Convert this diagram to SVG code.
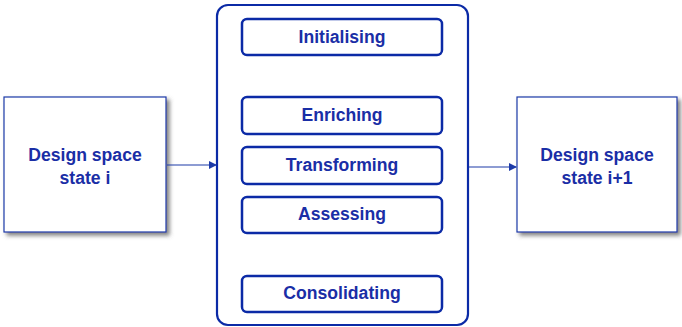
<svg xmlns="http://www.w3.org/2000/svg" width="682" height="327" viewBox="0 0 682 327">
<defs>
<style>
.t{font-family:"Liberation Sans",Arial,sans-serif;font-weight:bold;font-size:17.6px;fill:#1a2ea6;text-anchor:middle}
.state{fill:#fff;stroke:#1c3aa8;stroke-width:1.2}
.step{fill:#fff;stroke:#0b2aa6;stroke-width:2.5}
.cont{fill:#fff;stroke:#0b2aa6;stroke-width:2.2}
.conn{stroke:#1c3aa8;stroke-width:1.2;fill:none}
</style>
<filter id="sh" x="-10%" y="-10%" width="120%" height="125%">
<feDropShadow dx="3" dy="3" stdDeviation="2" flood-color="#555" flood-opacity="0.75"/>
</filter>
<marker id="ah" markerWidth="8" markerHeight="8" refX="7" refY="4" orient="auto" markerUnits="userSpaceOnUse">
<path d="M0,0 L8,4 L0,8 z" fill="#1c3aa8"/>
</marker>
</defs>
<rect width="682" height="327" fill="#fff"/>
<g id="state-i">
<rect class="state" x="4" y="97" width="162" height="135" filter="url(#sh)"/>
<text class="t" x="85" y="161">Design space</text>
<text class="t" x="85" y="184">state i</text>
</g>
<g id="state-i1">
<rect class="state" x="517" y="97" width="160" height="135" filter="url(#sh)"/>
<text class="t" x="597" y="161">Design space</text>
<text class="t" x="597" y="184">state i+1</text>
</g>
<g id="process">
<rect class="cont" x="217" y="5" width="251" height="320" rx="11"/>
</g>
<g id="initialising">
<rect class="step" x="242" y="19" width="200" height="36" rx="5"/>
<text class="t" x="342" y="43">Initialising</text>
</g>
<g id="enriching">
<rect class="step" x="242" y="97" width="200" height="37" rx="5"/>
<text class="t" x="342" y="121">Enriching</text>
</g>
<g id="transforming">
<rect class="step" x="242" y="147" width="200" height="37" rx="5"/>
<text class="t" x="342" y="171">Transforming</text>
</g>
<g id="assessing">
<rect class="step" x="242" y="197" width="200" height="36" rx="5"/>
<text class="t" x="342" y="220">Assessing</text>
</g>
<g id="consolidating">
<rect class="step" x="242" y="276" width="200" height="36" rx="5"/>
<text class="t" x="342" y="299">Consolidating</text>
</g>
<g id="connectors">
<line class="conn" x1="167" y1="165" x2="216" y2="165" marker-end="url(#ah)"/>
<line class="conn" x1="469" y1="167" x2="516" y2="167" marker-end="url(#ah)"/>
</g>
</svg>
